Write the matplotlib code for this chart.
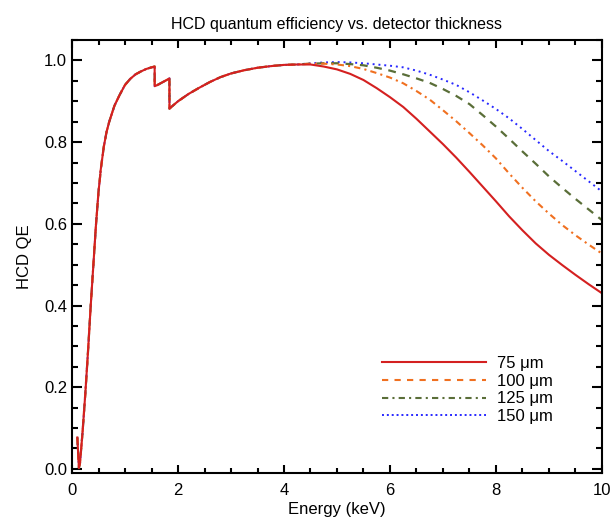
import matplotlib
matplotlib.use("Agg")
import matplotlib.pyplot as plt
from matplotlib.lines import Line2D
from matplotlib.ticker import MultipleLocator

plt.rcParams["font.family"] = ["Liberation Sans", "DejaVu Sans"]

# shared low-energy part (all thicknesses overlap below ~4.3 keV)
e_low = [0.10, 0.13, 0.15, 0.20, 0.25, 0.30, 0.35, 0.40, 0.45, 0.50, 0.530,
         0.540, 0.60, 0.65, 0.70, 0.80, 0.90, 1.00, 1.10, 1.20, 1.30, 1.40,
         1.50, 1.559, 1.560, 1.60, 1.70, 1.80, 1.838, 1.839, 1.90, 2.00, 2.20,
         2.40, 2.60, 2.80, 3.00, 3.25, 3.50, 3.75, 4.00, 4.25]
qe_low = [0.077, 0.002, 0.014, 0.092, 0.183, 0.284, 0.394, 0.494, 0.594, 0.679,
          0.716, 0.731, 0.789, 0.824, 0.849, 0.889, 0.916, 0.940, 0.955, 0.966,
          0.973, 0.979, 0.983, 0.985, 0.937, 0.939, 0.946, 0.953, 0.956, 0.882,
          0.889, 0.900, 0.918, 0.933, 0.947, 0.959, 0.968, 0.976, 0.982, 0.986,
          0.989, 0.990]

e_high = [4.50, 4.75, 5.00, 5.25, 5.50, 5.75, 6.00, 6.25, 6.50, 6.75, 7.00, 7.25,
          7.50, 7.75, 8.00, 8.25, 8.50, 8.75, 9.00, 9.25, 9.50, 9.75, 10.0]
qe_75 = [0.990, 0.985, 0.978, 0.967, 0.952, 0.932, 0.910, 0.886, 0.857, 0.826,
         0.795, 0.762, 0.727, 0.691, 0.655, 0.618, 0.584, 0.552, 0.524, 0.499,
         0.475, 0.452, 0.430]
qe_100 = [0.992, 0.992, 0.990, 0.986, 0.979, 0.969, 0.958, 0.944, 0.925, 0.904,
          0.878, 0.851, 0.822, 0.792, 0.760, 0.723, 0.688, 0.655, 0.625, 0.597,
          0.572, 0.549, 0.527]
qe_125 = [0.992, 0.993, 0.993, 0.991, 0.988, 0.982, 0.975, 0.966, 0.956, 0.945,
          0.930, 0.913, 0.893, 0.866, 0.838, 0.808, 0.777, 0.747, 0.716, 0.688,
          0.661, 0.635, 0.609]
qe_150 = [0.993, 0.995, 0.996, 0.995, 0.993, 0.990, 0.987, 0.983, 0.975, 0.965,
          0.953, 0.940, 0.922, 0.902, 0.881, 0.858, 0.832, 0.805, 0.778, 0.754,
          0.729, 0.704, 0.679]

labels = ["75 μm", "100 μm", "125 μm", "150 μm"]
colors = ["#d42020", "#f07020", "#5a6e38", "#2828ff"]

fig = plt.figure(figsize=(6.13, 5.22), dpi=100)
ax = fig.add_axes([0.1175, 0.0939, 0.8645, 0.8295])

energy = e_low + e_high
ax.plot(energy, qe_low + qe_150, color=colors[3], lw=1.4, ls=(0, (1, 2)))
ax.plot(energy, qe_low + qe_125, color=colors[2], lw=1.6, ls=(0, (3.5, 3)))
ax.plot(energy, qe_low + qe_100, color=colors[1], lw=1.5, ls=(0, (3, 2, 1, 2)))
ax.plot(energy, qe_low + qe_75, color=colors[0], lw=1.5)

ax.set_xlim(0, 10)
ax.set_ylim(-0.01, 1.05)
ax.xaxis.set_major_locator(MultipleLocator(2))
ax.xaxis.set_minor_locator(MultipleLocator(0.5))
ax.yaxis.set_minor_locator(MultipleLocator(0.05))
ax.set_yticks([0, 0.2, 0.4, 0.6, 0.8, 1.0])
ax.set_yticklabels(["0.0", "0.2", "0.4", "0.6", "0.8", "1.0"])
ax.tick_params(which="both", direction="in", top=True, right=True,
               labelsize=12, width=1.5)
ax.tick_params(axis="x", which="both", pad=7)
ax.tick_params(axis="x", which="major", length=6)
ax.tick_params(axis="x", which="minor", length=3.5)
ax.tick_params(axis="y", which="major", length=7.5)
ax.tick_params(axis="y", which="minor", length=4.5)
for s in ax.spines.values():
    s.set_linewidth(1.5)

ax.set_xlabel("Energy (keV)", fontsize=12, labelpad=3)
ax.set_ylabel("HCD QE", fontsize=12, labelpad=9)
ax.set_title("HCD quantum efficiency vs. detector thickness", fontsize=11.5, pad=8)

# legend styles as drawn in the original (orange dashed, green dash-dot)
handles = [
    Line2D([], [], color=colors[0], lw=1.5),
    Line2D([], [], color=colors[1], lw=1.5, ls=(0, (3, 3))),
    Line2D([], [], color=colors[2], lw=1.5, ls=(0, (3, 2, 1, 2))),
    Line2D([], [], color=colors[3], lw=1.4, ls=(0, (1, 1.5))),
]
ax.legend(handles, labels, loc="upper left", bbox_to_anchor=(0.57, 0.29),
          frameon=False, fontsize=12, handlelength=6.2, handletextpad=0.7,
          labelspacing=0.17, borderpad=0)

fig.savefig("out.png", dpi=100)
